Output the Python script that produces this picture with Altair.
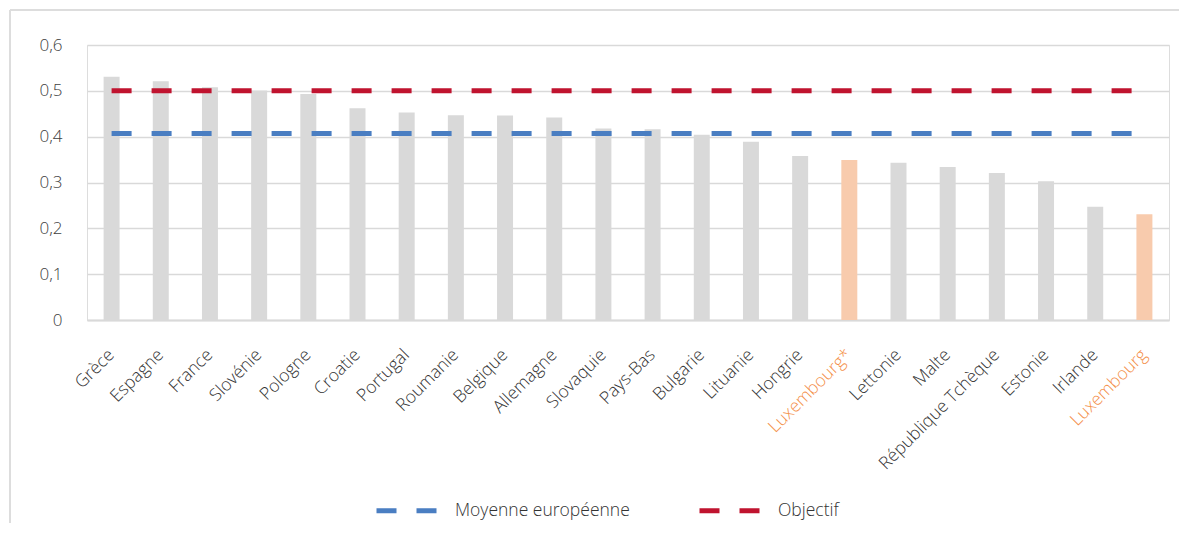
import altair as alt
import pandas as pd

countries = ["Grèce", "Espagne", "France", "Slovénie", "Pologne", "Croatie", "Portugal",
             "Roumanie", "Belgique", "Allemagne", "Slovaquie", "Pays-Bas", "Bulgarie",
             "Lituanie", "Hongrie", "Luxembourg*", "Lettonie", "Malte", "République Tchèque",
             "Estonie", "Irlande", "Luxembourg"]
values = [0.531, 0.521, 0.508, 0.501, 0.493, 0.462, 0.453, 0.447, 0.446, 0.442, 0.418,
          0.416, 0.404, 0.389, 0.358, 0.349, 0.343, 0.334, 0.321, 0.303, 0.247, 0.231]
highlight = ["Luxembourg*", "Luxembourg"]
moyenne = 0.407
objectif = 0.5
series_names = ["Moyenne européenne", "Objectif"]
series_colors = ["#4A7EC2", "#C0132F"]
y_ticks = [0, 0.1, 0.2, 0.3, 0.4, 0.5, 0.6]

n = len(countries)
bars_df = pd.DataFrame({"pays": countries, "valeur": values,
                        "lux": [c in highlight for c in countries]})
lines_df = pd.DataFrame({
    "pays": countries * 2,
    "valeur": [moyenne] * n + [objectif] * n,
    "serie": [series_names[0]] * n + [series_names[1]] * n,
})
frame_df = pd.DataFrame({"k": [0]})

FONT = "Open Sans"
GRID = "#D9D9D9"

x_enc = alt.X("pays:N", sort=countries,
              scale=alt.Scale(paddingInner=0.675, paddingOuter=0.3375),
              axis=alt.Axis(title=None, labelAngle=-45, labelFontSize=17.5, labelFont=FONT,
                            labelFontWeight=300, labelLimit=300,
                            labelAlign="right", labelBaseline="middle",
                            labelColor=alt.condition(
                                "indexof(['Luxembourg*','Luxembourg'], datum.value) >= 0",
                                alt.value("#F4904A"), alt.value("#333333")),
                            labelPadding=32, ticks=False, domain=True, domainColor=GRID,
                            domainWidth=2, grid=False, labelOverlap=False))
y_enc = alt.Y("valeur:Q", scale=alt.Scale(domain=[0, 0.6], nice=False),
              axis=alt.Axis(title=None, values=y_ticks, grid=True, gridColor=GRID,
                            gridWidth=1.5, domain=False, ticks=False, labelFontSize=17,
                            labelFont=FONT, labelFontWeight=300, labelColor="#404040",
                            labelPadding=25,
                            labelExpr="datum.value == 0 ? '0' : replace(format(datum.value, '.1f'), '.', ',')"))

bars = alt.Chart(bars_df).mark_bar().encode(
    x=x_enc,
    y=y_enc,
    color=alt.condition(alt.datum.lux, alt.value("#F8CBAD"), alt.value("#D9D9D9")),
)

lines = alt.Chart(lines_df).mark_line(strokeWidth=5, strokeDash=[20, 20]).encode(
    x=alt.X("pays:N", sort=countries),
    y=alt.Y("valeur:Q"),
    color=alt.Color("serie:N",
                    scale=alt.Scale(domain=series_names, range=series_colors),
                    legend=alt.Legend(orient="none", legendX=287, legendY=433,
                                      direction="horizontal", title=None,
                                      symbolType="stroke", symbolSize=3600,
                                      symbolStrokeWidth=5, symbolDash=[20, 20],
                                      labelFontSize=17.5, labelFont=FONT,
                                      labelFontWeight=300, labelLimit=400,
                                      labelColor="#333333", labelOffset=16,
                                      columnPadding=59)),
)

frame_left = alt.Chart(frame_df).mark_rule(color="#DDDDDD", strokeWidth=2).encode(
    x=alt.value(-77), y=alt.value(-35), y2=alt.value(600))
frame_top = alt.Chart(frame_df).mark_rule(color="#DDDDDD", strokeWidth=2).encode(
    x=alt.value(-77), x2=alt.value(1200), y=alt.value(-35))

chart = alt.layer(frame_left, frame_top, bars, lines).properties(
    width=1082, height=275,
    padding={"left": 79, "top": 37, "right": 10, "bottom": 203},
    autosize=alt.AutoSizeParams(type="none"),
).configure_view(stroke=None).configure(font=FONT)

chart.save("out.html", embed_options={"renderer": "svg", "actions": False})
